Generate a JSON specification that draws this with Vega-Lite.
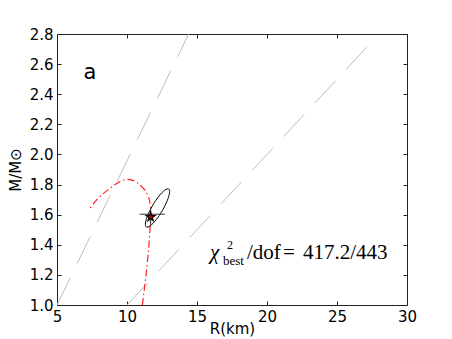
{
  "$schema": "https://vega.github.io/schema/vega-lite/v6.json",
  "width": 350,
  "height": 271,
  "autosize": {"type": "none"},
  "padding": {"left": 57, "top": 34, "right": 45, "bottom": 34},
  "background": "white",
  "config": {
    "view": {"stroke": "#222222", "strokeWidth": 1},
    "axis": {
      "domain": false, "grid": false, "tickColor": "#222222", "tickSize": -4, "tickWidth": 1,
      "labelFont": "DejaVu Sans", "labelFontSize": 15, "labelColor": "black", "labelFlush": false, "labelOverlap": false,
      "titleFont": "DejaVu Sans", "titleFontSize": 15, "titleFontWeight": "normal", "titleColor": "black",
      "labelPadding": 8
    }
  },
  "resolve": {"axis": {"x": "independent", "y": "independent"}},
  "layer": [
    {
      "data": {"values": [
        {"id": "a", "R": 5.0, "M": 1.0},
        {"id": "a", "R": 14.4, "M": 2.8},
        {"id": "b", "R": 10.0, "M": 1.0},
        {"id": "b", "R": 27.55, "M": 2.755}
      ]},
      "mark": {"type": "line", "color": "#bdbdbd", "strokeWidth": 1, "strokeDash": [30, 16], "clip": true},
      "encoding": {
        "x": {"field": "R", "type": "quantitative", "scale": {"domain": [5, 30], "nice": false, "zero": false},
              "axis": {"orient": "bottom", "values": [5, 10, 15, 20, 25, 30], "title": "R(km)", "titlePadding": -3}},
        "y": {"field": "M", "type": "quantitative", "scale": {"domain": [1.0, 2.8], "nice": false, "zero": false},
              "axis": {"orient": "left", "values": [1.0, 1.2, 1.4, 1.6, 1.8, 2.0, 2.2, 2.4, 2.6, 2.8], "format": ".1f", "title": "M/M⊙", "titlePadding": 6}},
        "detail": {"field": "id"}
      }
    },
    {
      "data": {"values": [
        {"o": 1, "R": 11.1, "M": 1.0},
        {"o": 2, "R": 11.23, "M": 1.1},
        {"o": 3, "R": 11.36, "M": 1.2},
        {"o": 4, "R": 11.47, "M": 1.3},
        {"o": 5, "R": 11.57, "M": 1.4},
        {"o": 6, "R": 11.64, "M": 1.5},
        {"o": 7, "R": 11.69, "M": 1.58},
        {"o": 8, "R": 11.69, "M": 1.65},
        {"o": 9, "R": 11.52, "M": 1.72},
        {"o": 10, "R": 11.05, "M": 1.786},
        {"o": 11, "R": 10.45, "M": 1.826},
        {"o": 12, "R": 10.0, "M": 1.834},
        {"o": 13, "R": 9.5, "M": 1.82},
        {"o": 14, "R": 8.79, "M": 1.775},
        {"o": 15, "R": 7.83, "M": 1.698},
        {"o": 16, "R": 7.31, "M": 1.636}
      ]},
      "mark": {"type": "line", "color": "#ff2020", "strokeWidth": 1.2, "strokeDash": [7, 3, 1.5, 3], "interpolate": "monotone", "clip": true},
      "encoding": {
        "x": {"field": "R", "type": "quantitative", "axis": {"orient": "top", "values": [5, 10, 15, 20, 25, 30], "labels": false, "title": null}},
        "y": {"field": "M", "type": "quantitative", "axis": {"orient": "right", "values": [1.0, 1.2, 1.4, 1.6, 1.8, 2.0, 2.2, 2.4, 2.6, 2.8], "labels": false, "title": null}},
        "order": {"field": "o", "type": "quantitative"}
      }
    },
    {
      "data": {"values": [
        {"o": 1, "R": 12.98, "M": 1.771},
        {"o": 2, "R": 13.04, "M": 1.745},
        {"o": 3, "R": 12.87, "M": 1.692},
        {"o": 4, "R": 12.52, "M": 1.626},
        {"o": 5, "R": 12.07, "M": 1.565},
        {"o": 6, "R": 11.66, "M": 1.526},
        {"o": 7, "R": 11.38, "M": 1.518},
        {"o": 8, "R": 11.32, "M": 1.545},
        {"o": 9, "R": 11.49, "M": 1.598},
        {"o": 10, "R": 11.84, "M": 1.663},
        {"o": 11, "R": 12.29, "M": 1.724},
        {"o": 12, "R": 12.70, "M": 1.763}
      ]},
      "mark": {"type": "line", "color": "black", "strokeWidth": 1, "interpolate": "cardinal-closed"},
      "encoding": {
        "x": {"field": "R", "type": "quantitative", "axis": null},
        "y": {"field": "M", "type": "quantitative", "axis": null},
        "order": {"field": "o", "type": "quantitative"}
      }
    },
    {
      "data": {"values": [
        {"R": 10.9, "M": 1.603, "R2": 12.7, "M2": 1.603},
        {"R": 11.69, "M": 1.64, "R2": 11.69, "M2": 1.53}
      ]},
      "mark": {"type": "rule", "color": "#333333", "strokeWidth": 1},
      "encoding": {
        "x": {"field": "R", "type": "quantitative", "axis": null},
        "y": {"field": "M", "type": "quantitative", "axis": null},
        "x2": {"field": "R2"},
        "y2": {"field": "M2"}
      }
    },
    {
      "data": {"values": [{"R": 11.69, "M": 1.585}]},
      "layer": [
        {
          "mark": {"type": "point", "shape": "M0,-1L0.2245,-0.309L0.951,-0.309L0.363,0.118L0.588,0.809L0,0.382L-0.588,0.809L-0.363,0.118L-0.951,-0.309L-0.2245,-0.309Z", "size": 170, "filled": true, "color": "black", "opacity": 1},
          "encoding": {
            "x": {"field": "R", "type": "quantitative", "axis": null},
            "y": {"field": "M", "type": "quantitative", "axis": null}
          }
        },
        {
          "mark": {"type": "point", "shape": "M0,-1L0.2245,-0.309L0.951,-0.309L0.363,0.118L0.588,0.809L0,0.382L-0.588,0.809L-0.363,0.118L-0.951,-0.309L-0.2245,-0.309Z", "size": 30, "filled": true, "color": "#d00000", "opacity": 1},
          "encoding": {
            "x": {"field": "R", "type": "quantitative", "axis": null},
            "y": {"field": "M", "type": "quantitative", "axis": null}
          }
        }
      ]
    },
    {
      "data": {"values": [{"R": 7.36, "M": 2.538, "t": "a"}]},
      "mark": {"type": "text", "font": "DejaVu Sans", "fontSize": 21, "align": "center", "baseline": "middle", "color": "black"},
      "encoding": {
        "x": {"field": "R", "type": "quantitative", "axis": null},
        "y": {"field": "M", "type": "quantitative", "axis": null},
        "text": {"field": "t"}
      }
    },
    {
      "data": {"values": [{"R": 15.93, "M": 1.306, "t": "χ"}]},
      "mark": {"type": "text", "font": "Liberation Serif", "fontStyle": "italic", "fontSize": 21, "align": "left", "baseline": "alphabetic", "color": "black"},
      "encoding": {
        "x": {"field": "R", "type": "quantitative", "axis": null},
        "y": {"field": "M", "type": "quantitative", "axis": null},
        "text": {"field": "t"}
      }
    },
    {
      "data": {"values": [{"R": 17.14, "M": 1.372, "t": "2"}]},
      "mark": {"type": "text", "font": "Liberation Serif", "fontSize": 12, "align": "left", "baseline": "alphabetic", "color": "black"},
      "encoding": {
        "x": {"field": "R", "type": "quantitative", "axis": null},
        "y": {"field": "M", "type": "quantitative", "axis": null},
        "text": {"field": "t"}
      }
    },
    {
      "data": {"values": [{"R": 16.86, "M": 1.268, "t": "best"}]},
      "mark": {"type": "text", "font": "Liberation Serif", "fontSize": 13, "align": "left", "baseline": "alphabetic", "color": "black"},
      "encoding": {
        "x": {"field": "R", "type": "quantitative", "axis": null},
        "y": {"field": "M", "type": "quantitative", "axis": null},
        "text": {"field": "t"}
      }
    },
    {
      "data": {"values": [{"R": 18.57, "M": 1.306, "t": "/dof"}]},
      "mark": {"type": "text", "font": "Liberation Serif", "fontSize": 21, "align": "left", "baseline": "alphabetic", "color": "black"},
      "encoding": {
        "x": {"field": "R", "type": "quantitative", "axis": null},
        "y": {"field": "M", "type": "quantitative", "axis": null},
        "text": {"field": "t"}
      }
    },
    {
      "data": {"values": [{"R": 21.15, "M": 1.306, "t": "="}]},
      "mark": {"type": "text", "font": "Liberation Serif", "fontSize": 21, "align": "left", "baseline": "alphabetic", "color": "black"},
      "encoding": {
        "x": {"field": "R", "type": "quantitative", "axis": null},
        "y": {"field": "M", "type": "quantitative", "axis": null},
        "text": {"field": "t"}
      }
    },
    {
      "data": {"values": [{"R": 22.57, "M": 1.306, "t": "417.2/443"}]},
      "mark": {"type": "text", "font": "Liberation Serif", "fontSize": 21, "align": "left", "baseline": "alphabetic", "color": "black"},
      "encoding": {
        "x": {"field": "R", "type": "quantitative", "axis": null},
        "y": {"field": "M", "type": "quantitative", "axis": null},
        "text": {"field": "t"}
      }
    }
  ]
}
